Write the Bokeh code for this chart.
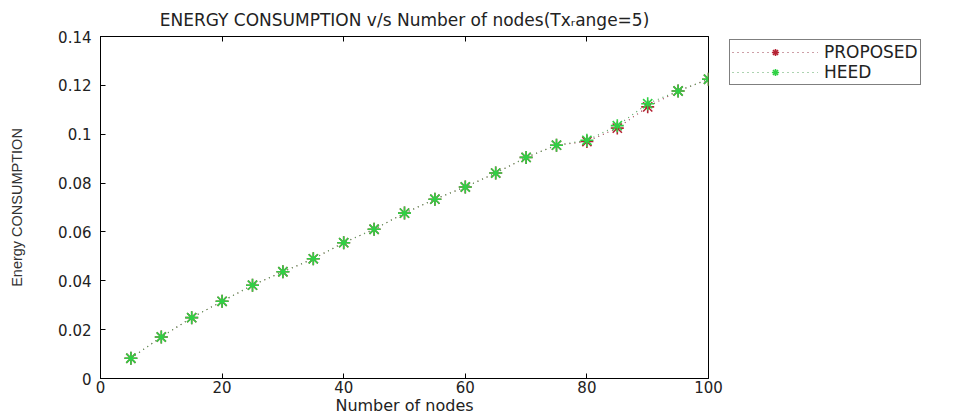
from bokeh.embed import file_html
from bokeh.models import FixedTicker, Legend, LegendItem, LinearAxis, Range1d, Title
from bokeh.plotting import figure
from bokeh.resources import INLINE

# Number of sensor nodes deployed
nodes = [5, 10, 15, 20, 25, 30, 35, 40, 45, 50, 55, 60, 65, 70, 75, 80, 85, 90, 95, 100]

# Energy consumption for each protocol
proposed = [0.0083, 0.0170, 0.0249, 0.0316, 0.0382, 0.0437, 0.0490, 0.0556, 0.0611, 0.0677,
            0.0734, 0.0784, 0.0841, 0.0905, 0.0955, 0.0970, 0.1025, 0.1112, 0.1177, 0.1225]
heed = [0.0083, 0.0170, 0.0249, 0.0316, 0.0382, 0.0437, 0.0490, 0.0556, 0.0611, 0.0677,
        0.0734, 0.0784, 0.0841, 0.0905, 0.0955, 0.0975, 0.1035, 0.1125, 0.1177, 0.1225]

x_ticks = [0, 20, 40, 60, 80, 100]
y_ticks = [0, 0.02, 0.04, 0.06, 0.08, 0.1, 0.12, 0.14]
y_tick_labels = ["0", "0.02", "0.04", "0.06", "0.08", "0.1", "0.12", "0.14"]

title_text = "ENERGY CONSUMPTION v/s Number of nodes(Tx\u1d63ange=5)"
x_label = "Number of nodes"
y_label = "Energy CONSUMPTION"

FONT = "DejaVu Sans"
TEXT = "#222222"
RED = "#b52234"
GREEN = "#2fd144"

p = figure(
    frame_width=608, frame_height=342,
    x_range=Range1d(0, 100), y_range=Range1d(0, 0.14),
    output_backend="svg", toolbar_location=None,
    min_border_left=100, min_border_right=250,
    min_border_top=36, min_border_bottom=38,
    background_fill_color="white", border_fill_color="white",
)
p.title = Title(text=title_text, align="center", text_font=FONT,
                text_font_size="17px", text_font_style="normal",
                text_color=TEXT, standoff=14)
p.outline_line_color = "black"
p.xgrid.visible = False
p.ygrid.visible = False

# Top axis carries inward ticks only
p.add_layout(LinearAxis(), "above")
for ax in p.xaxis:
    ax.ticker = FixedTicker(ticks=x_ticks)
for ax in p.yaxis:
    ax.ticker = FixedTicker(ticks=y_ticks)
for ax in p.xaxis + p.yaxis:
    ax.major_tick_in = 5
    ax.major_tick_out = 0
    ax.minor_tick_line_color = None
    ax.axis_line_color = "black"
    ax.major_tick_line_color = "black"
    ax.major_label_text_font = FONT
    ax.major_label_text_font_size = "15px"
    ax.major_label_text_color = TEXT

bottom, left = p.below[0], p.left[0]
left.major_label_overrides = {t: s for t, s in zip(y_ticks, y_tick_labels)}
bottom.major_label_standoff = 2
left.major_label_standoff = 9

bottom.axis_label = x_label
bottom.axis_label_standoff = 0
bottom.axis_label_text_font = FONT
bottom.axis_label_text_font_size = "16px"
bottom.axis_label_text_font_style = "normal"
bottom.axis_label_text_color = TEXT

left.axis_label = y_label
left.axis_label_standoff = 30
left.axis_label_text_font = "Liberation Sans"
left.axis_label_text_font_size = "14.5px"
left.axis_label_text_font_style = "normal"
left.axis_label_text_color = "#333333"

p.above[0].major_label_overrides = {t: "" for t in x_ticks}
p.above[0].major_label_standoff = 0

# Data series: dotted lines with asterisk markers
r_pl = p.line(nodes, proposed, line_color="#9c4050", line_dash="1 4", line_width=1.2)
r_ps = p.scatter(nodes, proposed, marker="asterisk", size=13, line_color=RED, line_width=1.6)
r_hl = p.line(nodes, heed, line_color="#5aa862", line_dash="1 4", line_width=1.2)
r_hs = p.scatter(nodes, heed, marker="asterisk", size=13, line_color=GREEN, line_width=1.6)

legend = Legend(
    items=[LegendItem(label="PROPOSED", renderers=[r_pl, r_ps]),
           LegendItem(label="HEED", renderers=[r_hl, r_hs])],
    location=(21, 293),
    border_line_color="black", border_line_width=1,
    background_fill_color="white", background_fill_alpha=1,
    label_text_font=FONT, label_text_font_size="17px", label_text_color=TEXT,
    glyph_width=86, glyph_height=18, label_standoff=6,
    padding=2, spacing=0, margin=0, label_height=18,
)
p.add_layout(legend, "right")

open("out.html", "w").write(file_html(p, INLINE))
